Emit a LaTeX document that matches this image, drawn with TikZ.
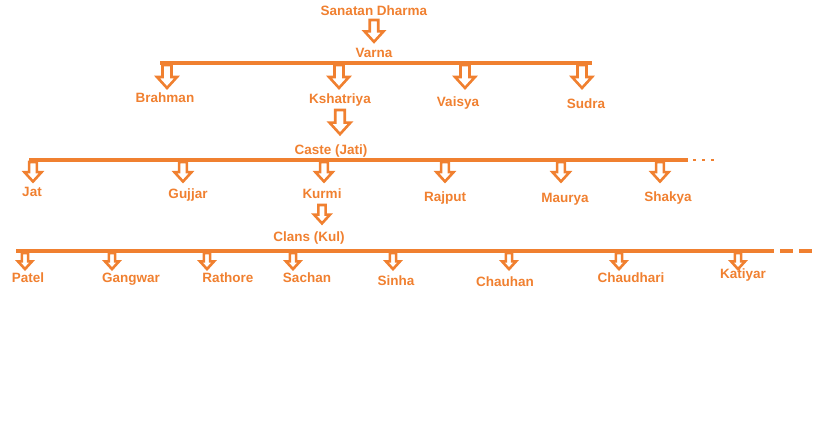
\documentclass[tikz,border=0pt]{standalone}
\usepackage{fontspec}
\setmainfont{Liberation Sans}
\usetikzlibrary{positioning}
\definecolor{penColor}{RGB}{240,128,48}
\tikzset{
  lbl/.style={text=penColor,font=\bfseries\fontsize{13.5}{15}\selectfont,inner sep=0pt},
  bar/.style={draw=penColor,line width=3.8pt},
  pics/downarr/.style={code={
    \draw[penColor,line width=2.6pt,line join=miter]
      (-4.5,0)--(4.5,0)--(4.5,12)--(10,12)--(0,23)--(-10,12)--(-4.5,12)--cycle;}}
}
\begin{document}
\begin{tikzpicture}[x=1pt,y=-1pt]
  \useasboundingbox (0,0) rectangle (819,430);
  % top levels
  \node[lbl] (sanatan) at (374,11) {Sanatan Dharma};
  \pic[scale=0.95] at (374,20) {downarr};
  \node[lbl] (varna) at (374,53) {Varna};
  \coordinate (vl) at (160,63); \coordinate (vr) at (592,63);
  \draw[bar] (vl) -- (vr);
  \foreach \x in {167,339,465,582} \pic at (\x,65) {downarr};
  \node[lbl] (brahman) at (165,98) {Brahman};
  \node[lbl] (kshatriya) at (340,100) {Kshatriya};
  \node[lbl] (vaisya) at (458,103) {Vaisya};
  \node[lbl] (sudra) at (586,104) {Sudra};
  \pic[scale=1.05] at (340,110) {downarr};
  % castes
  \node[lbl] (caste) at (331,151) {Caste (Jati)};
  \coordinate (cl) at (29,160); \coordinate (cr) at (688,160);
  \draw[bar] (cl) -- (cr);
  \draw[penColor,line width=2pt,dash pattern=on 3pt off 6pt] (cr) ++(5,0) -- ++(26,0);
  \foreach \x in {33,183,324,445,561,660} \pic[scale=0.85] at (\x,162) {downarr};
  \node[lbl] (jat) at (32,192) {Jat};
  \node[lbl] (gujjar) at (188,195) {Gujjar};
  \node[lbl] (kurmi) at (322,194) {Kurmi};
  \node[lbl] (rajput) at (445,198) {Rajput};
  \node[lbl] (maurya) at (565,199) {Maurya};
  \node[lbl] (shakya) at (668,198) {Shakya};
  \pic[scale=0.8] at (322,205) {downarr};
  % clans
  \node[lbl] (clans) at (309,238) {Clans (Kul)};
  \coordinate (kl) at (16,251); \coordinate (kr) at (774,251);
  \draw[bar] (kl) -- (kr);
  \draw[penColor,line width=3.8pt,dash pattern=on 13pt off 6pt] (kr) ++(6,0) -- ++(32,0);
  \foreach \x in {25,112,207,293,393,509,619,738} \pic[scale=0.7] at (\x,253) {downarr};
  \node[lbl] (patel) at (28,278) {Patel};
  \node[lbl] (gangwar) at (131,279) {Gangwar};
  \node[lbl] (rathore) at (228,278) {Rathore};
  \node[lbl] (sachan) at (307,278) {Sachan};
  \node[lbl] (sinha) at (396,281) {Sinha};
  \node[lbl] (chauhan) at (505,282) {Chauhan};
  \node[lbl] (chaudhari) at (631,278) {Chaudhari};
  \node[lbl] (katiyar) at (743,275) {Katiyar};
\end{tikzpicture}
\end{document}
